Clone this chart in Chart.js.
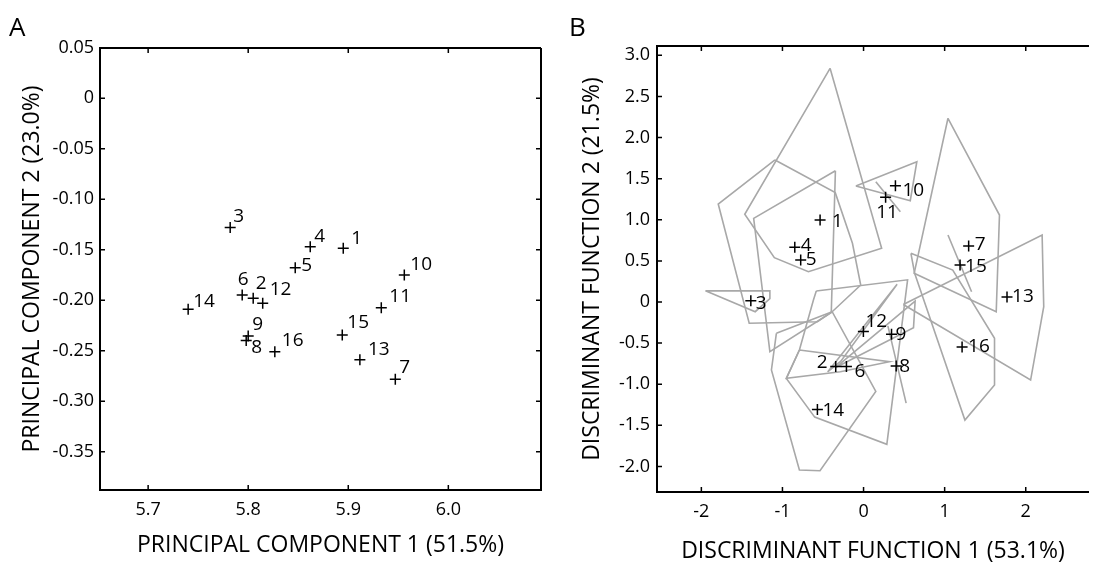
<!DOCTYPE html>
<html>
<head>
<meta charset="utf-8">
<script src="https://cdn.jsdelivr.net/npm/chart.js@4.4.1/dist/chart.umd.min.js"></script>
<style>
  html, body { margin: 0; padding: 0; background: #fff; overflow: hidden; }
  #wrap { position: relative; width: 1096px; height: 562px; }
  .panel { position: absolute; top: 0; width: 548px; height: 562px; }
  .tag { position: absolute; top: 8px; font: 26px "Open Sans", sans-serif; color: #000; }
</style>
</head>
<body>
<div id="wrap">
  <div class="panel" style="left:0"><canvas id="pca" width="548" height="562"></canvas></div>
  <div class="panel" style="left:548px"><canvas id="dfa" width="548" height="562"></canvas></div>
  <div class="tag" style="left:9px">A</div>
  <div class="tag" style="left:569px">B</div>
</div>
<script>
// sites 1..16
const sites = ["1", "2", "3", "4", "5", "6", "7", "8", "9", "10", "11", "12", "13", "14", "15", "16"];

// panel A: PCA scores
const pc1 = [5.895, 5.805, 5.782, 5.862, 5.847, 5.794, 5.947, 5.798, 5.800, 5.956, 5.933, 5.8145, 5.9116, 5.740, 5.894, 5.8266];
const pc2 = [-0.1486, -0.198, -0.128, -0.147, -0.168, -0.195, -0.2783, -0.240, -0.2354, -0.175, -0.2074, -0.203, -0.259, -0.209, -0.2344, -0.2512];
const pcXTicks = [5.7, 5.8, 5.9, 6.0];
const pcYTicks = [0.05, 0, -0.05, -0.10, -0.15, -0.20, -0.25, -0.30, -0.35];

// panel B: discriminant scores (group centroids)
const df1 = [-0.536, -0.343, -1.39, -0.848, -0.775, -0.211, 1.296, 0.402, 0.345, 0.393, 0.272, -0.002, 1.769, -0.569, 1.19, 1.215];
const df2 = [0.998, -0.783, 0.016, 0.665, 0.511, -0.783, 0.681, -0.779, -0.393, 1.415, 1.274, -0.36, 0.061, -1.306, 0.45, -0.547];
const dfXTicks = [-2, -1, 0, 1, 2];
const dfYTicks = [3.0, 2.5, 2.0, 1.5, 1.0, 0.5, 0, -0.5, -1.0, -1.5, -2.0];

// group outlines (DF1, DF2)
const hull1 = [[-0.413, 2.843], [0.223, 0.653], [-0.680, 0.369], [-1.100, 0.539], [-1.465, 1.067]];
const hull2 = [[-0.791, -0.584], [0.320, -0.726], [-0.286, -0.848], [-0.952, -0.929]];
const hull3 = [[-1.950, 0.136], [-1.155, 0.136], [-1.155, 0.040], [-1.336, -0.118]];
const hull4 = [[-0.347, 1.597], [-1.355, 1.018], [-1.155, -0.605], [-0.398, -0.128]];
const hull5 = [[-1.092, 1.728], [-0.349, 1.330], [-0.137, 0.714], [-0.035, 0.207], [-0.387, -0.118], [-0.569, -0.240], [-1.410, -0.259], [-1.792, 1.192]];
const hull6 = [[-0.583, 0.134], [0.543, 0.270], [0.287, -1.731], [-0.602, -1.400], [-0.952, -0.929], [-0.791, -0.584], [-0.618, 0.024]];
const hull7 = [[1.041, 0.815], [1.332, 0.125]];
const hull8 = [[0.300, -0.290], [0.525, -1.230]];
const hull9 = [[-0.350, -0.800], [0.636, 0.012], [0.616, -0.312]];
const hull10 = [[-0.095, 1.411], [0.657, 1.707], [0.576, 1.232]];
const hull11 = [[0.151, 1.464], [0.454, 1.099]];
const hull12 = [[-0.443, -0.851], [0.414, 0.215], [-0.280, -0.720]];
const hull13 = [[0.490, -0.030], [2.202, 0.815], [2.222, -0.057], [2.060, -0.949]];
const hull14 = [[-1.075, -0.381], [-0.387, -0.118], [0.151, -1.087], [-0.537, -2.052], [-0.791, -2.044], [-1.136, -0.827]];
const hull15 = [[1.041, 2.235], [1.676, 1.058], [1.636, -0.118], [0.624, 0.349]];
const hull16 = [[0.584, 0.592], [1.100, 0.389], [1.615, -0.442], [1.615, -1.010], [1.250, -1.436], [0.630, 0.350]];
const hulls = [hull1, hull2, hull3, hull4, hull5, hull6, hull7, hull8, hull9, hull10, hull11, hull12, hull13, hull14, hull15, hull16];

// label placement next to each cross: [dx, dy, align]
const pcNudge = [[8, -10, "left"], [8, -15, "center"], [3, -11, "left"], [4, -10, "left"], [6, -2, "left"], [1, -16, "center"],
  [4, -12, "left"], [5, 7, "left"], [4, -11, "left"], [6, -10, "left"], [8, -11, "left"], [7, -14, "left"],
  [8, -10, "left"], [5, -8, "left"], [5, -12, "left"], [7, -11, "left"]];
const dfNudge = [[12, 2, "left"], [-8, -4, "right"], [5, 3, "left"], [6, -2, "left"], [5, 0, "left"], [8, 5, "left"],
  [6, -1, "left"], [3, 1, "left"], [4, 0, "left"], [7, 5, "left"], [1.5, 15, "center"], [2, -10, "left"],
  [5, 0, "left"], [5, 1.5, "left"], [5, 2, "left"], [6, 0, "left"]];

const INK = "#000";
const FONT = "Open Sans";
Chart.defaults.font.family = FONT;
Chart.defaults.color = INK;

// numbers beside the crosses
const pointTags = {
    id: "pointTags",
    afterDatasetsDraw(chart, args, opts) {
        const { ctx } = chart;
        const meta = chart.getDatasetMeta(0);
        ctx.save();
        ctx.fillStyle = INK;
        ctx.font = `19px "${FONT}"`;
        ctx.textBaseline = "middle";
        meta.data.forEach((el, i) => {
            const [dx, dy, align] = opts.nudge[i];
            ctx.textAlign = align;
            ctx.fillText(sites[i], el.x + dx, el.y + dy);
        });
        ctx.restore();
    },
};

// box + inward tick marks
const frame = {
    id: "frame",
    afterDraw(chart, args, opts) {
        const { ctx, chartArea: a, scales } = chart;
        const len = 5;
        ctx.save();
        ctx.strokeStyle = INK;
        ctx.lineWidth = 2;
        ctx.beginPath();
        ctx.moveTo(a.right, a.top);
        ctx.lineTo(a.left, a.top);
        ctx.lineTo(a.left, a.bottom);
        ctx.lineTo(a.right, a.bottom);
        if (opts.right) ctx.lineTo(a.right, a.top);
        ctx.stroke();
        ctx.lineWidth = 1.5;
        ctx.beginPath();
        scales.x.ticks.forEach((t) => {
            const p = scales.x.getPixelForValue(t.value);
            ctx.moveTo(p, a.bottom); ctx.lineTo(p, a.bottom - len);
            ctx.moveTo(p, a.top); ctx.lineTo(p, a.top + len);
        });
        scales.y.ticks.forEach((t) => {
            const p = scales.y.getPixelForValue(t.value);
            ctx.moveTo(a.left, p); ctx.lineTo(a.left + len, p);
            if (opts.right) { ctx.moveTo(a.right, p); ctx.lineTo(a.right - len, p); }
        });
        ctx.stroke();
        ctx.restore();
    },
};

const crossStyle = {
    pointStyle: "cross",
    pointRadius: 5.5,
    pointBorderWidth: 1.5,
    borderColor: INK,
    showLine: false,
};

function axis(min, max, tickList, fmt, size, pad, title, titlePad) {
    return {
        type: "linear",
        min, max,
        afterBuildTicks: (s) => { s.ticks = tickList.map((v) => ({ value: v })); },
        grid: { display: false, drawTicks: false },
        border: { display: false },
        ticks: { padding: pad, color: INK, font: { size: 18 }, autoSkip: false, maxRotation: 0, callback: fmt },
        title: { display: true, text: title, color: INK, font: { size: 23 }, padding: titlePad },
        afterFit: size,
    };
}

new Chart(document.getElementById("pca"), {
    type: "scatter",
    data: {
        datasets: [{ data: pc1.map((v, i) => ({ x: v, y: pc2[i] })), ...crossStyle }],
    },
    options: {
        responsive: false,
        animation: false,
        layout: { padding: { top: 48, right: 4, left: 0, bottom: 0 } },
        scales: {
            x: axis(5.6519, 6.0926, pcXTicks, (v) => v.toFixed(1), (s) => { s.height = 72; }, 9,
                "PRINCIPAL COMPONENT 1 (51.5%)", { bottom: 3 }),
            y: axis(-0.388, 0.0497, pcYTicks, (v) => (v === 0 ? "0" : v.toFixed(2)), (s) => { s.width = 100; }, 6,
                "PRINCIPAL COMPONENT 2 (23.0%)", { top: 19 }),
        },
        plugins: {
            legend: { display: false },
            tooltip: { enabled: false },
            pointTags: { nudge: pcNudge },
            frame: { right: true },
        },
    },
    plugins: [pointTags, frame],
});

const outlineSets = hulls.map((h) => {
    const pts = h.map(([x, y]) => ({ x, y }));
    if (pts.length > 2) pts.push(pts[0]);
    return {
        data: pts,
        showLine: true,
        borderColor: "#a8a8a8",
        borderWidth: 1.6,
        pointRadius: 0,
        tension: 0,
        fill: false,
    };
});

new Chart(document.getElementById("dfa"), {
    type: "scatter",
    data: {
        datasets: [{ data: df1.map((v, i) => ({ x: v, y: df2[i] })), ...crossStyle }, ...outlineSets],
    },
    options: {
        responsive: false,
        animation: false,
        layout: { padding: { top: 46, right: 0, left: 0, bottom: 0 } },
        scales: {
            x: axis(-2.547, 2.78, dfXTicks, (v) => String(v), (s) => { s.height = 70; }, 9,
                "DISCRIMINANT FUNCTION 1 (53.1%)", { bottom: -3 }),
            y: axis(-2.311, 3.114, dfYTicks, (v) => (v === 0 ? "0" : v.toFixed(1)), (s) => { s.width = 109; }, 7,
                "DISCRIMINANT FUNCTION 2 (21.5%)", { top: 31 }),
        },
        plugins: {
            legend: { display: false },
            tooltip: { enabled: false },
            pointTags: { nudge: dfNudge },
            frame: { right: false },
        },
    },
    plugins: [pointTags, frame],
});
</script>
</body>
</html>
